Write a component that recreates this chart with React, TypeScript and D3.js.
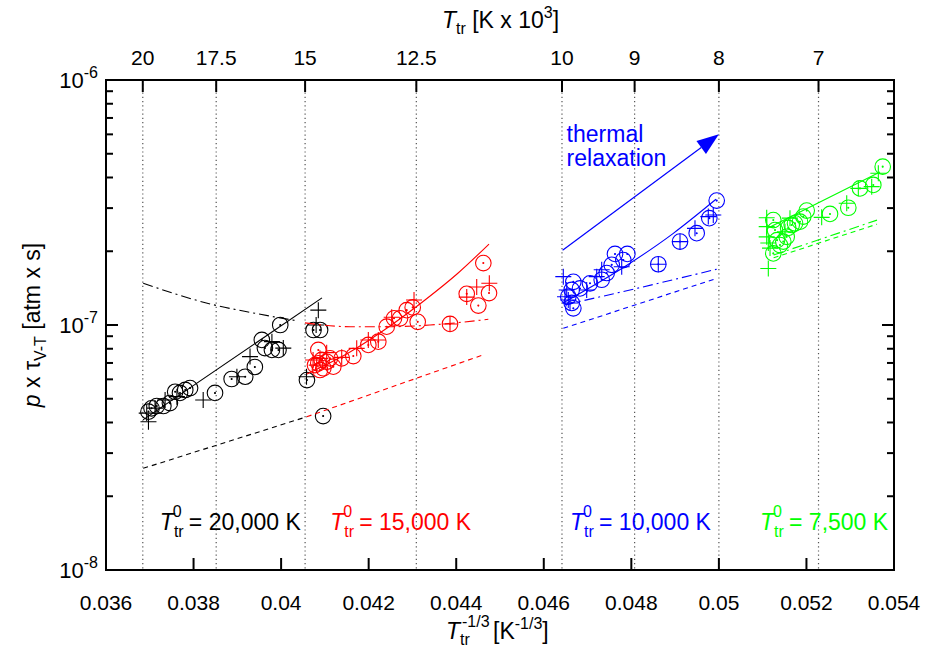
import React from 'react';
import * as d3 from 'd3';

const W = 930;
const H = 647;
const M = { left: 106, right: 36, top: 80, bottom: 77 };
const FONT = '"Liberation Sans", Arial, Helvetica, sans-serif';
const FS_TICK = 21;
const FS = 23;
const FS_SMALL = 16;

// Axis ticks
const xTicks = [0.036, 0.038, 0.04, 0.042, 0.044, 0.046, 0.048, 0.05, 0.052, 0.054];
const xTickLabels = ['0.036', '0.038', '0.04', '0.042', '0.044', '0.046', '0.048', '0.05', '0.052', '0.054'];
const topTicksK = [20, 17.5, 15, 12.5, 10, 9, 8, 7];
const topTickLabels = ['20', '17.5', '15', '12.5', '10', '9', '8', '7'];
const yDecades = [-8, -7, -6];

// T0 = 20,000 K
const blackCircles: [number, number][] = [
  [0.03697, 4.43e-8], [0.03704, 4.57e-8], [0.03716, 4.67e-8], [0.03731, 4.67e-8], [0.03746, 4.8e-8],
  [0.03758, 5.34e-8], [0.03769, 5.28e-8], [0.03781, 5.43e-8], [0.03792, 5.53e-8], [0.03849, 5.28e-8],
  [0.03887, 6.02e-8], [0.03918, 6.15e-8], [0.0394, 6.74e-8], [0.03956, 8.69e-8], [0.03963, 8.05e-8],
  [0.03979, 7.91e-8], [0.03994, 7.91e-8], [0.03998, 1.0e-7], [0.04074, 9.54e-8], [0.04089, 9.54e-8],
  [0.04059, 5.96e-8], [0.04096, 4.25e-8],
];
const blackPluses: [number, number][] = [
  [0.03697, 4.03e-8], [0.03693, 4.37e-8], [0.03712, 4.58e-8], [0.03735, 4.94e-8], [0.03762, 5.1e-8],
  [0.03822, 4.94e-8], [0.03899, 6.15e-8], [0.03929, 7.43e-8], [0.03979, 8.55e-8], [0.04005, 8.05e-8],
  [0.04085, 1.15e-7], [0.0408, 1.0e-7], [0.04058, 6.15e-8],
];
const blackFit: [number, number][] = [[0.036845, 4.1e-8], [0.040934, 1.29e-7]];
const blackDashDot: [number, number][] = [[0.03685, 1.48e-7], [0.03845, 1.21e-7], [0.03936, 1.12e-7], [0.04036, 1.04e-7]];
const blackDashed: [number, number][] = [[0.03685, 2.6e-8], [0.040585, 4.22e-8]];

// T0 = 15,000 K
const redCircles: [number, number][] = [
  [0.044619, 1.79e-7], [0.04424, 1.34e-7], [0.044505, 1.2e-7], [0.044749, 1.35e-7], [0.043858, 1.01e-7],
  [0.04312, 1.03e-7], [0.043006, 1.18e-7], [0.042869, 1.15e-7], [0.042716, 1.065e-7], [0.042579, 1.065e-7],
  [0.042412, 9.84e-8], [0.04222, 8.55e-8], [0.041992, 8.29e-8], [0.041649, 7.47e-8], [0.041384, 7.31e-8],
  [0.041192, 6.76e-8], [0.041117, 7.31e-8], [0.041041, 7.08e-8], [0.040927, 7.2e-8], [0.04085, 7.91e-8],
  [0.04085, 6.98e-8], [0.040888, 6.55e-8], [0.040964, 6.66e-8], [0.040774, 6.86e-8],
];
const redPluses: [number, number][] = [
  [0.044756, 1.48e-7], [0.044468, 1.43e-7], [0.04424, 1.3e-7], [0.043858, 1.01e-7], [0.043036, 1.265e-7],
  [0.042526, 1.075e-7], [0.04222, 8.69e-8], [0.041992, 8.69e-8], [0.041727, 8.03e-8], [0.041384, 7.38e-8],
  [0.041041, 7.71e-8], [0.040888, 7.31e-8], [0.040813, 6.86e-8], [0.04073, 7.2e-8],
];
const redFit: [number, number][] = [
  [0.040591, 6.31e-8], [0.041574, 7.76e-8], [0.042487, 9.91e-8], [0.043287, 1.265e-7], [0.044018, 1.615e-7], [0.044749, 2.14e-7],
];
const redDashDot: [number, number][] = [
  [0.040546, 1.02e-7], [0.041574, 9.84e-8], [0.042487, 9.84e-8], [0.043401, 1.0e-7], [0.044733, 1.055e-7],
];
const redDashed: [number, number][] = [[0.040585, 4.22e-8], [0.044657, 7.6e-8]];

// T0 = 10,000 K
const blueCircles: [number, number][] = [
  [0.04995, 3.22e-7], [0.049781, 2.73e-7], [0.049493, 2.37e-7], [0.049112, 2.19e-7], [0.048616, 1.77e-7],
  [0.047908, 1.95e-7], [0.047817, 1.84e-7], [0.047627, 1.95e-7], [0.047552, 1.76e-7], [0.047437, 1.63e-7],
  [0.047323, 1.53e-7], [0.047056, 1.48e-7], [0.046828, 1.41e-7], [0.046675, 1.5e-7], [0.046638, 1.39e-7],
  [0.04656, 1.305e-7], [0.046638, 1.23e-7], [0.046675, 1.17e-7],
];
const bluePluses: [number, number][] = [
  [0.049872, 2.81e-7], [0.049758, 2.77e-7], [0.049454, 2.48e-7], [0.049112, 2.19e-7], [0.048616, 1.77e-7],
  [0.04778, 1.73e-7], [0.047323, 1.68e-7], [0.047209, 1.575e-7], [0.04698, 1.39e-7], [0.046446, 1.575e-7],
  [0.046485, 1.305e-7], [0.046524, 1.39e-7], [0.04656, 1.265e-7], [0.046599, 1.23e-7],
];
const blueFit: [number, number][] = [[0.046439, 1.23e-7], [0.047908, 1.757e-7], [0.048959, 2.367e-7], [0.049934, 3.26e-7]];
const blueDashDot: [number, number][] = [[0.046485, 1.21e-7], [0.048122, 1.41e-7], [0.04995, 1.69e-7]];
const blueDashed: [number, number][] = [[0.046446, 9.69e-8], [0.04995, 1.55e-7]];

// T0 = 7,500 K
const greenCircles: [number, number][] = [
  [0.053742, 4.43e-7], [0.053527, 3.73e-7], [0.053223, 3.61e-7], [0.052956, 3.01e-7], [0.052538, 2.84e-7],
  [0.052006, 2.93e-7], [0.051928, 2.77e-7], [0.051853, 2.64e-7], [0.051739, 2.6e-7], [0.051663, 2.56e-7],
  [0.051549, 2.29e-7], [0.051471, 2.19e-7], [0.051396, 2.12e-7], [0.051243, 2.68e-7], [0.051243, 1.96e-7],
  [0.051282, 2.44e-7], [0.051582, 2.49e-7], [0.051328, 2.22e-7],
];
const greenPluses: [number, number][] = [
  [0.053642, 4.16e-7], [0.053491, 3.67e-7], [0.053185, 3.61e-7], [0.05292, 3.14e-7], [0.052348, 2.75e-7],
  [0.051624, 2.73e-7], [0.05151, 2.4e-7], [0.051092, 2.52e-7], [0.051092, 2.29e-7], [0.051129, 2.16e-7],
  [0.051129, 1.7e-7], [0.051168, 2.06e-7], [0.051092, 2.74e-7],
];
const greenFit: [number, number][] = [[0.051122, 2.49e-7], [0.053681, 4.21e-7]];
const greenDashDot: [number, number][] = [[0.05125, 1.93e-7], [0.053612, 2.68e-7]];
const greenDashed: [number, number][] = [[0.05125, 1.88e-7], [0.053612, 2.58e-7]];

// Thermal relaxation arrow (start, tip)
const arrowPts: [number, number][] = [[0.04643, 2.02e-7], [0.05, 6.0e-7]];

const groups = [
  { color: '#000000', circles: blackCircles, pluses: blackPluses, fit: blackFit, dashDot: blackDashDot, dashed: blackDashed },
  { color: '#ff0000', circles: redCircles, pluses: redPluses, fit: redFit, dashDot: redDashDot, dashed: redDashed },
  { color: '#0000ff', circles: blueCircles, pluses: bluePluses, fit: blueFit, dashDot: blueDashDot, dashed: blueDashed },
  { color: '#00ff00', circles: greenCircles, pluses: greenPluses, fit: greenFit, dashDot: greenDashDot, dashed: greenDashed },
];

const labelTexts = ['20,000 K', '15,000 K', '10,000 K', '7,500 K'];
const labelX = [0.03723, 0.04112, 0.04660, 0.05094];

export default function App() {
  const x = d3.scaleLinear().domain([0.036, 0.054]).range([M.left, W - M.right]);
  const y = d3.scaleLog().domain([1e-8, 1e-6]).range([H - M.bottom, M.top]);
  const x0 = M.left, x1 = W - M.right, y0 = M.top, y1 = H - M.bottom;

  const line = d3.line<[number, number]>().x(d => x(d[0])).y(d => y(d[1])).curve(d3.curveMonotoneX);

  const minorTicks: number[] = [];
  [-8, -7].forEach(e => { for (let k = 2; k <= 9; k++) minorTicks.push(k * Math.pow(10, e)); });

  const topPos = topTicksK.map(t => Math.pow(t * 1000, -1 / 3));

  const [a0, a1] = arrowPts;
  const ax0 = x(a0[0]), ay0 = y(a0[1]), ax1 = x(a1[0]), ay1 = y(a1[1]);
  const ang = Math.atan2(ay1 - ay0, ax1 - ax0);
  const hl = 22, hw = 8;
  const bx = ax1 - hl * Math.cos(ang), by = ay1 - hl * Math.sin(ang);
  const head = [
    [ax1, ay1],
    [bx + hw * Math.sin(ang), by - hw * Math.cos(ang)],
    [bx - hw * Math.sin(ang), by + hw * Math.cos(ang)],
  ].map(p => p.join(',')).join(' ');

  return (
    <svg width={W} height={H} style={{ position: 'absolute', left: 0, top: 0, background: '#fff' }} fontFamily={FONT}>
      <rect x={0} y={0} width={W} height={H} fill="#fff" />
      {/* vertical temperature guides */}
      {topPos.map((p, i) => (
        <line key={'g' + i} x1={x(p)} x2={x(p)} y1={y0} y2={y1} stroke="#555" strokeWidth={1.2} strokeDasharray="1.2,3" />
      ))}

      {/* series */}
      {groups.map((g, gi) => (
        <g key={'s' + gi} stroke={g.color} fill="none" strokeWidth={1.1}>
          <path d={line(g.dashed) || ''} strokeDasharray="5,4" />
          <path d={line(g.dashDot) || ''} strokeDasharray="10,4,2,4" />
          <path d={line(g.fit) || ''} />
          {g.circles.map((d, i) => (
            <g key={'c' + i}>
              <circle cx={x(d[0])} cy={y(d[1])} r={7.8} />
              <circle cx={x(d[0])} cy={y(d[1])} r={0.5} fill={g.color} />
            </g>
          ))}
          {g.pluses.map((d, i) => (
            <path key={'p' + i} d={`M${x(d[0]) - 8},${y(d[1])}h16M${x(d[0])},${y(d[1]) - 8}v16`} />
          ))}
        </g>
      ))}

      {/* arrow */}
      <line x1={ax0} y1={ay0} x2={bx} y2={by} stroke="#0000ff" strokeWidth={1.2} />
      <polygon points={head} fill="#0000ff" />
      <text x={ax0 + 4} y={142} fontSize={FS} fill="#0000ff">thermal</text>
      <text x={ax0 + 4} y={166} fontSize={FS} fill="#0000ff">relaxation</text>

      {/* frame */}
      <rect x={x0} y={y0} width={x1 - x0} height={y1 - y0} fill="none" stroke="#000" strokeWidth={2} />

      {/* bottom ticks */}
      {xTicks.map((t, i) => (
        <g key={'bx' + i}>
          <line x1={x(t)} x2={x(t)} y1={y1} y2={y1 - 12} stroke="#000" strokeWidth={2} />
          <text x={x(t)} y={610} fontSize={FS_TICK} textAnchor="middle">{xTickLabels[i]}</text>
        </g>
      ))}
      {/* top ticks */}
      {topPos.map((p, i) => (
        <g key={'tx' + i}>
          <line x1={x(p)} x2={x(p)} y1={y0} y2={y0 + 12} stroke="#000" strokeWidth={2} />
          <text x={x(p)} y={65} fontSize={FS_TICK} textAnchor="middle">{topTickLabels[i]}</text>
        </g>
      ))}
      {/* y ticks */}
      {yDecades.map(e => (
        <g key={'y' + e}>
          <line x1={x0} x2={x0 + 12} y1={y(Math.pow(10, e))} y2={y(Math.pow(10, e))} stroke="#000" strokeWidth={2} />
          <line x1={x1} x2={x1 - 12} y1={y(Math.pow(10, e))} y2={y(Math.pow(10, e))} stroke="#000" strokeWidth={2} />
          <text x={98} y={y(Math.pow(10, e)) + 8} fontSize={FS_TICK + 1} textAnchor="end">
            10<tspan fontSize={FS_SMALL} dy={-10}>{e}</tspan>
          </text>
        </g>
      ))}
      {minorTicks.map((v, i) => (
        <g key={'m' + i}>
          <line x1={x0} x2={x0 + 7} y1={y(v)} y2={y(v)} stroke="#000" strokeWidth={2} />
          <line x1={x1} x2={x1 - 7} y1={y(v)} y2={y(v)} stroke="#000" strokeWidth={2} />
        </g>
      ))}

      {/* axis titles */}
      <text x={442} y={28} fontSize={FS}>
        <tspan fontStyle="italic">T</tspan>
        <tspan fontSize={FS_SMALL} dy={6}>tr</tspan>
        <tspan dy={-6}>{'  [K x 10'}</tspan>
        <tspan fontSize={FS_SMALL} dy={-10}>3</tspan>
        <tspan dy={10}>]</tspan>
      </text>
      <g fontSize={FS}>
        <text x={446} y={639}>
          <tspan fontStyle="italic">T</tspan>
          <tspan fontSize={FS_SMALL} dy={6}>tr</tspan>
        </text>
        <text x={462} y={627} fontSize={FS_SMALL}>-1/3</text>
        <text x={493} y={639}>
          [K<tspan fontSize={FS_SMALL} dy={-10}>-1/3</tspan>
          <tspan dy={10}>]</tspan>
        </text>
      </g>
      <text transform="translate(40,325) rotate(-90)" fontSize={FS} textAnchor="middle">
        <tspan fontStyle="italic">p</tspan>
        <tspan>{' x τ'}</tspan>
        <tspan fontSize={FS_SMALL} dy={6}>V-T</tspan>
        <tspan dy={-6}>{'  [atm x s]'}</tspan>
      </text>

      {/* group labels */}
      {groups.map((g, i) => (
        <g key={'l' + i} fill={g.color} fontSize={FS}>
          <text x={x(labelX[i])} y={530}>
            <tspan fontStyle="italic">T</tspan>
            <tspan fontSize={FS_SMALL} dy={7}>tr</tspan>
          </text>
          <text x={x(labelX[i]) + 13} y={517} fontSize={FS_SMALL}>0</text>
          <text x={x(labelX[i]) + 29} y={530}>{'= ' + labelTexts[i]}</text>
        </g>
      ))}
    </svg>
  );
}
